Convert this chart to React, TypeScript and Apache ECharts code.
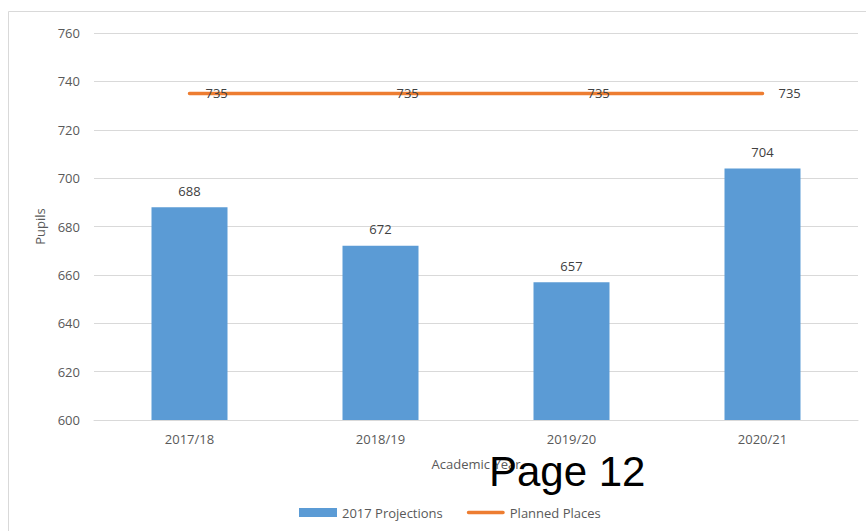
import React, { useEffect, useRef } from "react";
import * as echarts from "echarts";

const categories = ["2017/18", "2018/19", "2019/20", "2020/21"];
const projections = [688, 672, 657, 704];
const plannedPlaces = [735, 735, 735, 735];
const seriesNames = ["2017 Projections", "Planned Places"];
const yAxisName = "Pupils";
const xAxisName = "Academic Year";
const overlayText = "Page 12";

const FONT = "'Open Sans', sans-serif";

export default function App() {
  const ref = useRef<HTMLDivElement>(null);
  useEffect(() => {
    if (!ref.current) return;
    const chart = echarts.init(ref.current, null, { renderer: "svg" });
    chart.setOption({
      animation: false,
      backgroundColor: "#ffffff",
      textStyle: { fontFamily: FONT },
      grid: { left: 94, right: 8, top: 33, bottom: 111 },
      legend: {
        data: [
          { name: seriesNames[0], icon: "rect" },
          { name: seriesNames[1], icon: "path://M1.75,0 L36.25,0 A1.75,1.75 0 0 1 36.25,3.5 L1.75,3.5 A1.75,1.75 0 0 1 1.75,0 Z" },
        ],
        left: 294,
        top: 501,
        itemWidth: 38,
        itemHeight: 9,
        itemGap: 24,
        textStyle: { color: "#595959", fontSize: 13, fontFamily: FONT },
      },
      xAxis: {
        type: "category",
        data: categories,
        name: xAxisName,
        nameLocation: "middle",
        nameGap: 37,
        nameTextStyle: { color: "#595959", fontSize: 13, fontFamily: FONT },
        axisTick: { show: false },
        axisLine: { lineStyle: { color: "#D9D9D9", width: 1 } },
        axisLabel: { color: "#595959", fontSize: 13, margin: 12, fontFamily: FONT },
      },
      yAxis: {
        type: "value",
        min: 600,
        max: 760,
        interval: 20,
        name: yAxisName,
        nameLocation: "middle",
        nameGap: 43,
        nameRotate: 90,
        nameTextStyle: { color: "#595959", fontSize: 13, fontFamily: FONT },
        axisLine: { show: false },
        axisTick: { show: false },
        axisLabel: { color: "#595959", fontSize: 13, margin: 14, fontFamily: FONT },
        splitLine: { lineStyle: { color: "#D9D9D9", width: 1 } },
      },
      series: [
        {
          name: seriesNames[0],
          type: "bar",
          data: projections,
          barWidth: 76,
          itemStyle: { color: "#5B9BD5" },
          label: {
            show: true,
            position: "top",
            distance: 10,
            color: "#404040",
            fontSize: 13,
            fontFamily: FONT,
          },
        },
        {
          name: seriesNames[1],
          type: "line",
          data: plannedPlaces,
          symbol: "none",
          lineStyle: { color: "#ED7D31", width: 3.5, cap: "round" },
          itemStyle: { color: "#ED7D31" },
        },
        {
          name: seriesNames[1] + " labels",
          type: "line",
          data: plannedPlaces,
          symbol: "circle",
          symbolSize: 2,
          showSymbol: true,
          z: 3,
          lineStyle: { width: 0, opacity: 0 },
          itemStyle: { color: "#ED7D31" },
          label: {
            show: true,
            position: "right",
            distance: 15,
            color: "#404040",
            fontSize: 13,
            fontFamily: FONT,
          },
        },
      ],
      graphic: [
        {
          type: "rect",
          silent: true,
          z: -10,
          shape: { x: 8.5, y: 11.5, width: 900, height: 600 },
          style: { fill: "none", stroke: "#D9D9D9", lineWidth: 1 },
        },
        {
          type: "text",
          z: 100,
          x: 489,
          y: 471,
          style: {
            text: overlayText,
            font: "42px 'Liberation Sans', Arial, sans-serif",
            fill: "#000000",
            verticalAlign: "middle",
            align: "left",
          },
        },
      ],
    });
    return () => chart.dispose();
  }, []);
  return (
    <div
      ref={ref}
      style={{ position: "fixed", left: 0, top: 0, width: 866, height: 531 }}
    />
  );
}
